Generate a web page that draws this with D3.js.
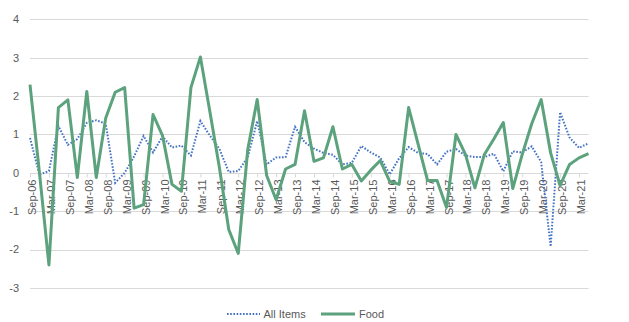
<!DOCTYPE html>
<html>
<head>
<meta charset="utf-8">
<script src="https://cdn.jsdelivr.net/npm/d3@7/dist/d3.min.js"></script>
<style>
  html, body { margin: 0; padding: 0; background: #fff; }
  text { font-family: "Liberation Sans", Arial, sans-serif; fill: #595959; }
</style>
</head>
<body>
<svg id="chart" width="629" height="322"></svg>
<script>
// Quarterly categories Sep-06 .. Jun-21
const months = ["Mar", "Jun", "Sep", "Dec"];
const categories = [];
for (let y = 2006, q = 2; categories.length < 60; ) {
  categories.push(months[q] + "-" + String(y % 100).padStart(2, "0"));
  q++; if (q > 3) { q = 0; y++; }
}

const allItems = [
  0.91, -0.05, 0.05, 1.22, 0.73, 0.88, 1.30, 1.37, 1.28, -0.26,
  0.00, 0.43, 0.96, 0.53, 0.95, 0.66, 0.71, 0.45, 1.35, 0.97,
  0.63, 0.02, 0.05, 0.40, 1.35, 0.22, 0.40, 0.41, 1.20, 0.80,
  0.63, 0.52, 0.47, 0.22, 0.26, 0.70, 0.53, 0.40, -0.04, 0.38,
  0.67, 0.52, 0.49, 0.22, 0.55, 0.62, 0.45, 0.41, 0.41, 0.50,
  0.04, 0.56, 0.53, 0.69, 0.28, -1.92, 1.58, 0.92, 0.65, 0.77
];

const food = [
  2.30, 0.00, -2.40, 1.70, 1.90, -0.12, 2.12, -0.12, 1.43, 2.10,
  2.22, -0.92, -0.83, 1.52, 0.97, -0.30, -0.48, 2.22, 3.02, 1.60,
  0.15, -1.48, -2.10, 0.60, 1.91, -0.07, -0.70, 0.10, 0.22, 1.62,
  0.30, 0.39, 1.20, 0.10, 0.22, -0.21, 0.07, 0.32, -0.22, -0.30,
  1.70, 0.75, -0.20, -0.20, -0.90, 1.00, 0.48, -0.39, 0.48, 0.88,
  1.31, -0.41, 0.48, 1.28, 1.91, 0.52, -0.33, 0.22, 0.39, 0.50
];

const yTicks = [-3, -2, -1, 0, 1, 2, 3, 4];
const seriesNames = ["All Items", "Food"];

const svg = d3.select("#chart");
const x = d3.scalePoint().domain(categories).range([30, 588.5]);
const y = d3.scaleLinear().domain([-3, 4]).range([288, 19.3]);

// gridlines
svg.append("g").selectAll("line").data(yTicks.filter(d => d !== 0)).join("line")
  .attr("x1", 30).attr("x2", 588.5)
  .attr("y1", d => Math.round(y(d)) + 0.5).attr("y2", d => Math.round(y(d)) + 0.5)
  .attr("stroke", "#d9d9d9").attr("stroke-width", 1);

// y labels
svg.append("g").selectAll("text").data(yTicks).join("text")
  .attr("x", 19).attr("y", d => y(d)).attr("dy", "0.35em")
  .attr("text-anchor", "end").attr("font-size", 11)
  .text(d => d);

// x axis at zero
const y0 = Math.round(y(0)) + 0.5;
const xAxis = d3.axisBottom(x)
  .tickValues(categories.filter((d, i) => i % 2 === 0))
  .tickSize(4).tickSizeOuter(0);
const gx = svg.append("g").attr("transform", `translate(0,${y0})`).call(xAxis);
gx.select(".domain").attr("stroke", "#d9d9d9").attr("d", `M30,0H588.5`);
gx.selectAll(".tick line").attr("stroke", "#d9d9d9");
gx.selectAll(".tick text")
  .attr("transform", "rotate(-90)")
  .attr("text-anchor", "end")
  .attr("x", -6).attr("y", 0).attr("dy", "0.35em").attr("dx", 0)
  .attr("font-size", 11)
  .attr("font-family", "Liberation Sans, Arial, sans-serif")
  .attr("fill", "#595959");
// nudge rotated labels horizontally a bit
gx.selectAll(".tick text").attr("dy", "0.5em");

const line = d3.line().x((d, i) => x(categories[i])).y(d => y(d));

svg.append("path").datum(allItems)
  .attr("d", line).attr("fill", "none")
  .attr("stroke", "#4472c4").attr("stroke-width", 2)
  .attr("stroke-dasharray", "1.6 1.6");

svg.append("path").datum(food)
  .attr("d", line).attr("fill", "none")
  .attr("stroke", "#5ba27d").attr("stroke-width", 3)
  .attr("stroke-linejoin", "round");

// legend
const leg = svg.append("g");
leg.append("line").attr("x1", 227).attr("x2", 260).attr("y1", 314).attr("y2", 314)
  .attr("stroke", "#4472c4").attr("stroke-width", 2).attr("stroke-dasharray", "1.6 1.6");
leg.append("text").attr("x", 263.5).attr("y", 314).attr("dy", "0.35em")
  .attr("font-size", 11).text(seriesNames[0]);
leg.append("line").attr("x1", 321).attr("x2", 355).attr("y1", 314).attr("y2", 314)
  .attr("stroke", "#5ba27d").attr("stroke-width", 3);
leg.append("text").attr("x", 359).attr("y", 314).attr("dy", "0.35em")
  .attr("font-size", 11).text(seriesNames[1]);
</script>
</body>
</html>
